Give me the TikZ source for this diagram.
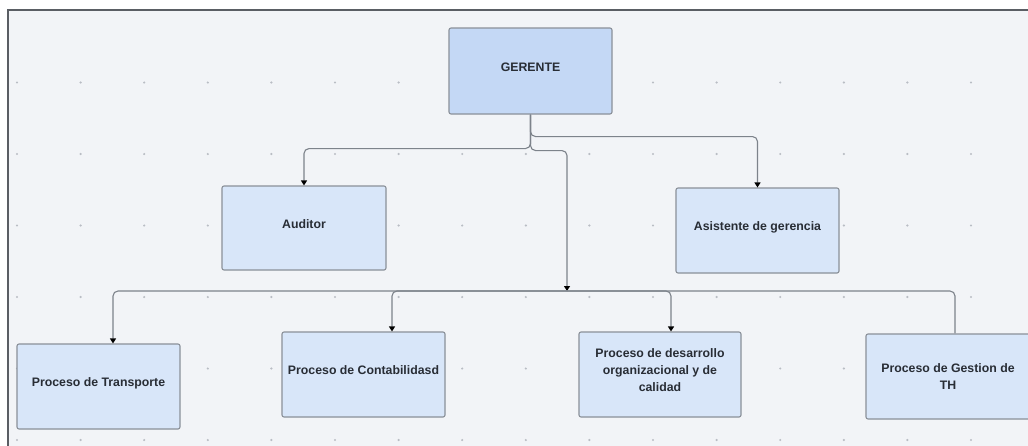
\documentclass[tikz,border=0pt]{standalone}
\usepackage{fontspec}
\setmainfont{Liberation Sans}
\usetikzlibrary{arrows.meta,calc}

\definecolor{canvas}{RGB}{242,244,247}
\definecolor{framegray}{RGB}{90,94,100}
\definecolor{dotgray}{RGB}{185,189,196}
\definecolor{topfill}{RGB}{196,216,245}
\definecolor{boxfill}{RGB}{216,230,249}
\definecolor{boxline}{RGB}{138,144,153}
\definecolor{linkgray}{RGB}{125,131,139}
\definecolor{labeltext}{RGB}{40,45,53}

\tikzset{
  orgbox/.style={draw=boxline, line width=1.1pt, fill=boxfill, rounded corners=2pt,
    minimum width=163pt, minimum height=85pt, align=center, text=labeltext,
    font=\fontsize{12.3}{17}\selectfont\bfseries, inner sep=2pt, text depth=8pt},
  topbox/.style={orgbox, fill=topfill},
  link/.style={draw=linkgray, line width=1.1pt, rounded corners=5pt},
  arrowlink/.style={link, -{Triangle[width=6pt,length=5pt,fill=black,color=black]}},
}

\begin{document}
\begin{tikzpicture}[x=1pt,y=-1pt]
\useasboundingbox (0,0) rectangle (1028,445);
\clip (0,0) rectangle (1028,445);
\fill[white] (0,0) rectangle (1028,445);
\filldraw[fill=canvas, draw=framegray, line width=1.5pt] (8,10) rectangle (1045,460);

% dotted grid of the canvas
\foreach \i in {0,...,15}
  \foreach \j in {1,...,6}
    \fill[dotgray] ({17+63.6*\i},{11+71.5*\j}) circle (1.2pt);

% boxes
\node[topbox, minimum width=163pt, minimum height=86pt] (ger) at (530.5,71) {GERENTE};
\node[orgbox, minimum width=164pt, minimum height=84pt] (aud) at (304,228) {Auditor};
\node[orgbox] (asis) at (757.5,230.5) {Asistente de gerencia};
\node[orgbox] (trans) at (98.5,386.5) {Proceso de Transporte};
\node[orgbox] (cont) at (363.5,374.5) {Proceso de Contabilidasd};
\node[orgbox, minimum width=162pt] (desa) at (660,374.5) {Proceso de desarrollo\\organizacional y de\\calidad};
\node[orgbox, minimum width=164pt, text depth=0pt] (gest) at (948,376.5) {Proceso de Gestion de\\TH};

% junction on the process bus
\coordinate (bus) at (567,291);

% connectors from the manager
\draw[arrowlink] (ger.south) -- ++(0,22) -| (asis.north);
\draw[arrowlink] (ger.south) -- ++(0,34) -| (aud.north);
\draw[arrowlink] (ger.south) -- ++(0,36) -| (bus);

% connectors along the process bus
\draw[arrowlink] (bus) -| ([xshift=14.5pt]trans.north);
\draw[arrowlink] (bus) -| ([xshift=28.5pt]cont.north);
\draw[arrowlink] (bus) -| ([xshift=11pt]desa.north);
\draw[link] (bus) -| ([xshift=7pt]gest.north);
\end{tikzpicture}
\end{document}
